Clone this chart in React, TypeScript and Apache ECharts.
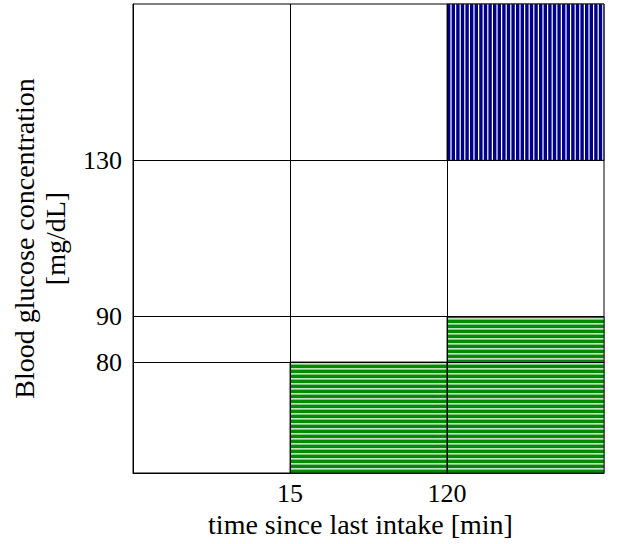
import React, { useEffect, useRef } from "react";
import * as echarts from "echarts";

// Axis break values (tick labels)
const timeTicks = [15, 120]; // minutes
const glucoseTicks = [80, 90, 130]; // mg/dL
// Where each tick sits on the (non-linear) axis, in band units
const timeTickPos = [1, 2];
const glucoseTickPos = [0.71, 1, 2];
const AXIS_MAX = 3;

// Highlighted regions
const regionTimeFrom = [120, 15, 120];
const regionTimeTo = [Infinity, 120, Infinity];
const regionGlucoseFrom = [130, -Infinity, -Infinity];
const regionGlucoseTo = [Infinity, 80, 90];
const regionKind = ["high", "normal", "normal"];

const KIND_STYLE: Record<string, { fill: string; dir: "v" | "h"; period: number; gap: number }> = {
  high: { fill: "#00008B", dir: "v", period: 4.6, gap: 1.2 },
  normal: { fill: "#008A00", dir: "h", period: 5, gap: 1.4 },
};

function mapVal(v: number, ticks: number[], pos: number[]) {
  if (v === Infinity) return AXIS_MAX;
  if (v === -Infinity) return 0;
  const i = ticks.indexOf(v);
  return i >= 0 ? pos[i] : v;
}

export default function App() {
  const ref = useRef<HTMLDivElement>(null);
  useEffect(() => {
    if (!ref.current) return;
    const chart = echarts.init(ref.current, null, { renderer: "svg" });
    const font = "'Liberation Serif', 'Times New Roman', serif";
    const FS = 26;
    const NFS = 28;

    const data = regionKind.map((k, i) => [
      mapVal(regionTimeFrom[i], timeTicks, timeTickPos),
      mapVal(regionTimeTo[i], timeTicks, timeTickPos),
      mapVal(regionGlucoseFrom[i], glucoseTicks, glucoseTickPos),
      mapVal(regionGlucoseTo[i], glucoseTicks, glucoseTickPos),
      i,
    ]);

    const renderItem = (params: any, api: any) => {
      const p0 = api.coord([api.value(0), api.value(2)]);
      const p1 = api.coord([api.value(1), api.value(3)]);
      const x = Math.min(p0[0], p1[0]);
      const y = Math.min(p0[1], p1[1]);
      const w = Math.abs(p1[0] - p0[0]);
      const h = Math.abs(p1[1] - p0[1]);
      const kind = regionKind[api.value(4)];
      const st = KIND_STYLE[kind];
      const children: any[] = [
        { type: "rect", shape: { x, y, width: w, height: h }, style: { fill: st.fill } },
      ];
      if (st.dir === "v") {
        for (let s = x + st.period - st.gap; s < x + w - 0.5; s += st.period) {
          children.push({
            type: "rect",
            shape: { x: s, y, width: st.gap, height: h },
            style: { fill: "#ffffff" },
          });
        }
      } else {
        for (let s = y + h - st.period + 0.2; s > y + 1; s -= st.period) {
          children.push({
            type: "rect",
            shape: { x, y: s, width: w, height: st.gap },
            style: { fill: "#ffffff" },
          });
        }
      }
      children.push({
        type: "rect",
        shape: { x, y, width: w, height: h },
        style: { fill: "none", stroke: "#222", lineWidth: 1 },
      });
      return { type: "group", children };
    };

    const xLabel = (v: number) => {
      const i = timeTickPos.indexOf(v);
      return i >= 0 ? String(timeTicks[i]) : "";
    };
    const yLabel = (v: number) => {
      const i = glucoseTickPos.indexOf(v);
      return i >= 0 ? String(glucoseTicks[i]) : "";
    };

    chart.setOption({
      animation: false,
      backgroundColor: "#ffffff",
      grid: {
        left: 133,
        right: 16,
        top: 4,
        bottom: 71,
        show: true,
        borderColor: "#000",
        borderWidth: 1,
        backgroundColor: "transparent",
        outerBoundsMode: "none",
      },
      xAxis: {
        type: "value",
        min: 0,
        max: AXIS_MAX,
        name: "time since last intake [min]",
        nameLocation: "middle",
        nameGap: 35,
        nameTextStyle: { fontFamily: font, fontSize: NFS, color: "#000", padding: [0, 16, 0, 0] },
        axisLine: { show: true, lineStyle: { color: "#000", width: 1 } },
        axisTick: { show: false },
        splitLine: { show: false },
        axisLabel: {
          customValues: timeTickPos,
          formatter: xLabel,
          fontFamily: font,
          fontSize: FS,
          color: "#000",
          margin: 7,
        },
      },
      yAxis: {
        type: "value",
        min: 0,
        max: AXIS_MAX,
        name: "Blood glucose concentration\n[mg/dL]",
        nameLocation: "middle",
        nameRotate: 90,
        nameGap: 62,
        nameTextStyle: { fontFamily: font, fontSize: NFS, color: "#000", lineHeight: 31 },
        axisLine: { show: true, lineStyle: { color: "#000", width: 1 } },
        axisTick: { show: false },
        splitLine: { show: false },
        axisLabel: {
          customValues: glucoseTickPos,
          formatter: yLabel,
          fontFamily: font,
          fontSize: FS,
          color: "#000",
          margin: 11,
        },
      },
      series: [
        {
          type: "custom",
          renderItem,
          data,
          z: 2,
          silent: true,
        },
        {
          type: "line",
          data: [],
          z: 5,
          silent: true,
          markLine: {
            silent: true,
            symbol: "none",
            label: { show: false },
            lineStyle: { color: "#000", width: 1, type: "solid" },
            data: [
              ...timeTickPos.map((v) => ({ xAxis: v })),
              ...glucoseTickPos.map((v) => ({ yAxis: v })),
            ],
          },
        },
      ],
    });
    return () => chart.dispose();
  }, []);
  return (
    <div
      ref={ref}
      style={{ width: 620, height: 544, position: "fixed", left: 0, top: 0 }}
    />
  );
}
